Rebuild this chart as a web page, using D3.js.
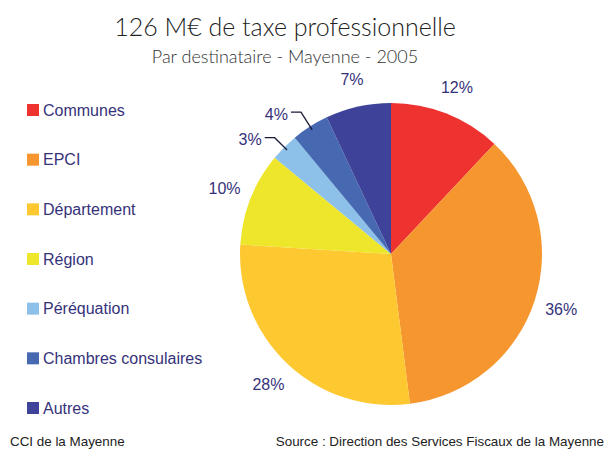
<!DOCTYPE html>
<html>
<head>
<meta charset="utf-8">
<script src="https://cdn.jsdelivr.net/npm/d3@7"></script>
<style>
  body { margin: 0; background: #fff; }
  svg { display: block; }
</style>
</head>
<body>
<svg id="chart" width="607" height="449"></svg>
<script>
// Taxe professionnelle par destinataire - Mayenne 2005

const categories = ['Communes', 'EPCI', 'Département', 'Région', 'Péréquation', 'Chambres consulaires', 'Autres'];
const values = [12, 36, 28, 10, 3, 4, 7];
const colors = ['#EE3230', '#F5962F', '#FEC830', '#EDE62B', '#8EC1E9', '#4669B1', '#3E4399'];

const titleText = '126 M€ de taxe professionnelle';
const subtitleText = 'Par destinataire - Mayenne - 2005';
const leftNote = 'CCI de la Mayenne';
const sourceNote = 'Source : Direction des Services Fiscaux de la Mayenne';

const width = 607, height = 449;
const textColor = '#35327A';
const handFont = '"Comic Sans MS", "Lato", sans-serif';
const plainFont = 'Arial, "Liberation Sans", Helvetica, sans-serif';

const svg = d3.select('#chart');

// Titles
svg.append('text')
    .attr('x', 285)
    .attr('y', 36)
    .attr('text-anchor', 'middle')
    .style('font-family', handFont)
    .style('font-weight', 300)
    .style('font-size', '25px')
    .style('fill', '#222')
    .text(titleText);

svg.append('text')
    .attr('x', 285)
    .attr('y', 63)
    .attr('text-anchor', 'middle')
    .style('font-family', handFont)
    .style('font-weight', 300)
    .style('font-size', '18px')
    .style('fill', '#333')
    .text(subtitleText);

// Pie
const cx = 391, cy = 254, radius = 151;
const labelRadius = 179;

const pie = d3.pie().sort(null).value(d => d.value);
const arcs = pie(categories.map((c, i) => ({ name: c, value: values[i], color: colors[i] })));

const arc = d3.arc().innerRadius(0).outerRadius(radius);

const g = svg.append('g').attr('transform', `translate(${cx},${cy})`);

g.selectAll('.slice')
    .data(arcs)
    .enter()
    .append('path')
    .attr('class', 'slice')
    .attr('d', arc)
    .style('fill', d => d.data.color);

const polar = (r, a) => [Math.sin(a) * r, -Math.cos(a) * r];
const midAngle = d => (d.startAngle + d.endAngle) / 2;

// Labels: small slices get a leader line
arcs.forEach(d => {
    const a = midAngle(d);
    if (d.data.value <= 4) {
        const p0 = polar(radius - 4, a);
        const p1 = polar(154 + d.data.value * 3.5, a);
        const p2 = [p1[0] - 10, p1[1]];
        g.append('polyline')
            .attr('points', [p0, p1, p2].map(p => p.join(',')).join(' '))
            .style('fill', 'none')
            .style('stroke', '#1a1a3a')
            .style('stroke-width', 1.3);
        g.append('text')
            .attr('x', p2[0] - 3)
            .attr('y', p2[1] + 2)
            .attr('dy', '0.35em')
            .attr('text-anchor', 'end')
            .style('font-family', plainFont)
            .style('font-size', '16px')
            .style('fill', textColor)
            .text(d.data.value + '%');
    } else {
        const p = polar(labelRadius, a);
        g.append('text')
            .attr('x', p[0])
            .attr('y', p[1])
            .attr('dy', '0.35em')
            .attr('text-anchor', 'middle')
            .style('font-family', plainFont)
            .style('font-size', '16px')
            .style('fill', textColor)
            .text(d.data.value + '%');
    }
});

// Legend
const legendY = d3.scalePoint()
    .domain(categories)
    .range([110, 408]);

const legend = svg.selectAll('.legend-item')
    .data(categories)
    .enter()
    .append('g')
    .attr('class', 'legend-item')
    .attr('transform', d => `translate(27,${legendY(d)})`);

legend.append('rect')
    .attr('x', 0)
    .attr('y', -6)
    .attr('width', 12)
    .attr('height', 12)
    .style('fill', (d, i) => colors[i]);

legend.append('text')
    .attr('x', 16)
    .attr('y', 0)
    .attr('dy', '0.35em')
    .style('font-family', plainFont)
    .style('font-size', '16px')
    .style('fill', textColor)
    .text(d => d);

// Footer notes
svg.append('text')
    .attr('x', 10)
    .attr('y', 446)
    .style('font-family', plainFont)
    .style('font-size', '13.4px')
    .style('fill', '#222')
    .text(leftNote);

svg.append('text')
    .attr('x', 604)
    .attr('y', 446)
    .attr('text-anchor', 'end')
    .style('font-family', plainFont)
    .style('font-size', '13.4px')
    .style('fill', '#222')
    .text(sourceNote);
</script>
</body>
</html>
